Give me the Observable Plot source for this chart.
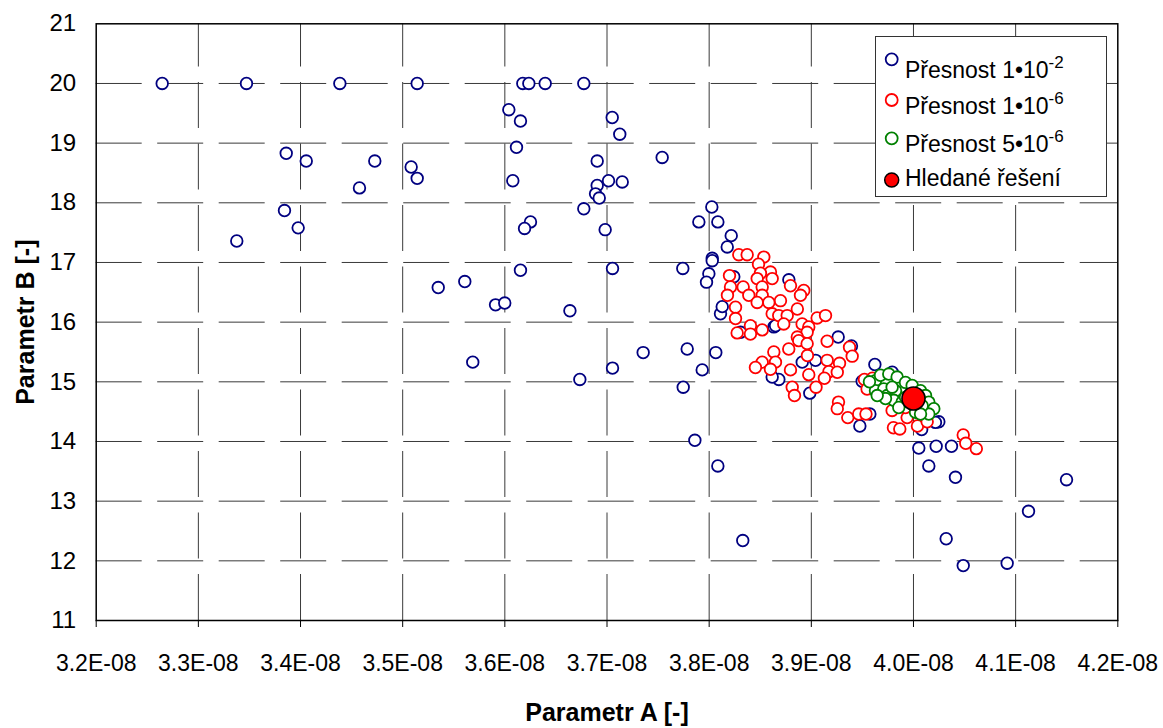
<!DOCTYPE html>
<html>
<head>
<meta charset="utf-8">
<script src="https://cdn.jsdelivr.net/npm/d3@7"></script>
<script src="https://cdn.jsdelivr.net/npm/@observablehq/plot@0.6"></script>
<style>
  body { margin: 0; background: #fff; }
  #chart { width: 1163px; height: 728px; }
  #chart svg { font-family: "Liberation Sans", Arial, sans-serif; }
</style>
</head>
<body>
<div id="chart"></div>
<script>
// Axis ticks
const xTicks = [3.2e-8, 3.3e-8, 3.4e-8, 3.5e-8, 3.6e-8, 3.7e-8, 3.8e-8, 3.9e-8, 4.0e-8, 4.1e-8, 4.2e-8];
const yTicks = [11, 12, 13, 14, 15, 16, 17, 18, 19, 20, 21];

// Precision 1e-2 runs: parameter A, parameter B
const blueA = [
  3.2646e-8, 3.3471e-8, 3.4385e-8, 3.5142e-8, 3.6176e-8, 3.6235e-8, 3.6395e-8, 3.6773e-8,
  3.3860e-8, 3.4056e-8, 3.4727e-8, 3.4577e-8, 3.3843e-8, 3.3977e-8, 3.3376e-8,
  3.6039e-8, 3.6153e-8, 3.7051e-8, 3.7125e-8, 3.6114e-8, 3.5083e-8, 3.5142e-8, 3.6078e-8,
  3.6904e-8, 3.7540e-8, 3.7015e-8, 3.7149e-8, 3.6904e-8, 3.6888e-8, 3.6924e-8, 3.6773e-8,
  3.6251e-8, 3.6193e-8, 3.6982e-8, 3.8026e-8, 3.7899e-8, 3.8085e-8, 3.8216e-8, 3.8177e-8,
  3.8030e-8, 3.8030e-8, 3.7742e-8, 3.7054e-8, 3.6153e-8, 3.7997e-8, 3.7974e-8, 3.5348e-8,
  3.5608e-8, 3.5909e-8, 3.5999e-8, 3.6637e-8, 3.8111e-8, 3.8128e-8, 3.5686e-8, 3.6734e-8,
  3.7054e-8, 3.7354e-8, 3.7785e-8, 3.7932e-8, 3.8065e-8, 3.7746e-8, 3.7860e-8, 3.8085e-8,
  3.8329e-8, 4.0052e-8, 4.0222e-8, 4.0372e-8, 4.0150e-8, 4.0411e-8, 4.1498e-8, 4.1126e-8,
  4.0320e-8, 4.0487e-8, 4.0917e-8, 4.0248e-8, 4.0080e-8, 3.9475e-8, 3.9573e-8, 3.9622e-8,
  3.9792e-8, 3.9498e-8, 3.9263e-8, 3.8985e-8, 3.8682e-8, 3.8617e-8, 3.8911e-8, 3.9041e-8,
  3.8633e-8, 3.8780e-8, 3.8307e-8, 3.8650e-8, 3.9393e-8, 4.0215e-8, 3.8241e-8
];
const blueB = [
  20.00, 20.00, 20.00, 20.00, 20.00, 20.00, 20.00, 20.00,
  18.83, 18.70, 18.70, 18.25, 17.87, 17.58, 17.36,
  19.56, 19.37, 19.43, 19.15, 18.93, 18.60, 18.41, 18.37,
  18.70, 18.76, 18.37, 18.35, 18.29, 18.15, 18.08, 17.90,
  17.68, 17.57, 17.55, 17.93, 17.68, 17.68, 17.45, 17.26,
  17.07, 17.03, 16.90, 16.90, 16.87, 16.81, 16.67, 16.58,
  16.68, 16.29, 16.32, 16.19, 16.14, 16.26, 15.33, 15.04,
  15.23, 15.49, 15.55, 15.20, 15.49, 14.91, 14.02, 13.59,
  12.34, 13.89, 13.92, 13.92, 13.59, 13.40, 13.36, 12.83,
  12.37, 11.92, 11.96, 14.33, 14.20, 14.26, 14.46, 15.29,
  15.16, 15.01, 15.75, 14.81, 15.04, 15.08, 15.33, 15.36,
  15.92, 16.71, 15.83, 15.94, 15.60, 14.32, 16.76
];

// Precision 1e-6 runs
const redA = [
  3.8290e-8, 3.8372e-8, 3.8535e-8, 3.8483e-8, 3.8600e-8, 3.8502e-8, 3.8617e-8, 3.8199e-8,
  3.8470e-8, 3.8209e-8, 3.8333e-8, 3.8519e-8, 3.8796e-8, 3.8926e-8, 3.8894e-8, 3.8179e-8,
  3.8388e-8, 3.8519e-8, 3.8470e-8, 3.8698e-8, 3.8584e-8, 3.8258e-8, 3.8863e-8, 3.8617e-8,
  3.8681e-8, 3.8764e-8, 3.9057e-8, 3.9139e-8, 3.8258e-8, 3.8730e-8, 3.8910e-8, 3.8975e-8,
  3.8404e-8, 3.8519e-8, 3.8274e-8, 3.8404e-8, 3.8959e-8, 3.8863e-8, 3.8877e-8, 3.8959e-8,
  3.9155e-8, 3.9374e-8, 3.8779e-8, 3.8633e-8, 3.9400e-8, 3.8962e-8, 3.8649e-8, 3.8519e-8,
  3.8453e-8, 3.8600e-8, 3.9155e-8, 3.9276e-8, 3.9172e-8, 3.8796e-8, 3.8975e-8, 3.9254e-8,
  3.9128e-8, 3.9046e-8, 3.8813e-8, 3.8835e-8, 3.9520e-8, 3.9546e-8, 3.9266e-8, 3.9254e-8,
  3.9357e-8, 3.9464e-8, 3.9535e-8, 3.9804e-8, 3.9866e-8, 3.9938e-8, 4.0039e-8, 4.0134e-8,
  4.0487e-8, 4.0512e-8, 4.0615e-8, 3.9791e-8, 3.9921e-8, 3.9599e-8
];
const redB = [
  17.13, 17.13, 17.09, 16.97, 16.84, 16.82, 16.73, 16.78,
  16.73, 16.59, 16.59, 16.59, 16.61, 16.53, 16.45, 16.45,
  16.45, 16.45, 16.33, 16.36, 16.33, 16.25, 16.22, 16.14,
  16.11, 16.11, 16.07, 16.11, 16.06, 15.97, 15.97, 15.92,
  15.94, 15.87, 15.82, 15.80, 15.83, 15.75, 15.69, 15.64,
  15.68, 15.58, 15.55, 15.50, 15.43, 15.44, 15.33, 15.33,
  15.24, 15.21, 15.36, 15.31, 15.17, 15.20, 15.12, 15.16,
  15.06, 14.91, 14.91, 14.77, 15.04, 14.88, 14.66, 14.55,
  14.40, 14.46, 14.46, 14.23, 14.21, 14.40, 14.26, 14.33,
  14.11, 13.97, 13.88, 14.52, 14.57, 15.06
];

// Precision 5e-6 runs
const greenA = [
  3.9628e-8, 3.9677e-8, 3.9758e-8, 3.9840e-8, 3.9922e-8, 3.9987e-8, 4.0069e-8, 4.0118e-8,
  4.0150e-8, 4.0199e-8, 4.0150e-8, 3.9628e-8, 3.9709e-8, 3.9743e-8, 3.9824e-8, 3.9807e-8,
  3.9889e-8, 4.0052e-8, 4.0085e-8, 4.0020e-8, 3.9922e-8, 3.9726e-8, 3.9645e-8, 3.9791e-8,
  3.9856e-8, 4.0069e-8, 3.9569e-8
];
const greenB = [
  15.02, 15.11, 15.13, 15.08, 14.99, 14.94, 14.85, 14.77,
  14.66, 14.55, 14.46, 14.85, 14.88, 14.77, 14.85, 14.69,
  14.66, 14.74, 14.60, 14.49, 14.74, 14.72, 14.77, 14.91,
  14.57, 14.46, 15.00
];

// The sought solution
const solutionA = [4.0e-8];
const solutionB = [14.72];

const zipAB = (a, b) => a.map((v, i) => ({a: v, b: b[i]}));
const blue = zipAB(blueA, blueB);
const red = zipAB(redA, redB);
const green = zipAB(greenA, greenB);
const solution = zipAB(solutionA, solutionB);

// "3.2e-8" -> "3.2E-08"
const sci = d => d.toExponential(1).replace(/e([+-])(\d)$/, "E$10$2").replace(/e([+-])(\d\d)$/, "E$1$2");

const gridStroke = "#3a3a3a";
const dash = "46,15.5";

const plot = Plot.plot({
  width: 1163,
  height: 728,
  marginTop: 23.3,
  marginLeft: 95.7,
  marginRight: 45.7,
  marginBottom: 108,
  x: {domain: [3.2e-8, 4.2e-8]},
  y: {domain: [11, 21]},
  marks: [
    // dashed grid
    Plot.ruleY(yTicks.slice(1, -1), {y: d => d, x1: 3.2e-8, x2: 4.2e-8, stroke: gridStroke, strokeWidth: 1, strokeDasharray: dash}),
    Plot.ruleX(xTicks.slice(1, -1), {x: d => d, y1: 11, y2: 21, stroke: gridStroke, strokeWidth: 1, strokeDasharray: dash}),
    Plot.axisX({ticks: xTicks, tickFormat: sci, tickSize: 7, tickPadding: 27, fontSize: 23, label: null, stroke: "#000"}),
    Plot.axisY({ticks: yTicks, tickSize: 0, tickPadding: 20, fontSize: 24, label: null}),
    Plot.frame({stroke: "#000", strokeWidth: 1.5}),
    Plot.dot(blue, {x: "a", y: "b", r: 5.8, stroke: "#000080", strokeWidth: 1.8, fill: "white"}),
    Plot.dot(red, {x: "a", y: "b", r: 5.8, stroke: "#ff0000", strokeWidth: 1.8, fill: "white"}),
    Plot.dot(green, {x: "a", y: "b", r: 5.8, stroke: "#008000", strokeWidth: 1.8, fill: "white"}),
    Plot.dot(solution, {x: "a", y: "b", r: 11.5, stroke: "#000", strokeWidth: 1.6, fill: "#ff0000"}),
    Plot.text(["Parametr A [-]"], {text: d => d, frameAnchor: "bottom", dy: 92, lineAnchor: "middle", textAnchor: "middle", fontSize: 25, fontWeight: "bold", fill: "#000"}),
    Plot.text(["Parametr B [-]"], {text: d => d, frameAnchor: "left", dx: -70, rotate: -90, lineAnchor: "middle", textAnchor: "middle", fontSize: 25, fontWeight: "bold", fill: "#000"})
  ]
});

document.getElementById("chart").appendChild(plot);

// Legend box inside the plot area
const legendItems = [
  {label: "Přesnost 1•10", sup: "-2", stroke: "#000080", fill: "white", r: 6, cy: 59.3, base: 78.3},
  {label: "Přesnost 1•10", sup: "-6", stroke: "#ff0000", fill: "white", r: 6, cy: 100, base: 114.3},
  {label: "Přesnost 5•10", sup: "-6", stroke: "#008000", fill: "white", r: 6, cy: 138.3, base: 152.3},
  {label: "Hledané řešení", sup: null, stroke: "#000", fill: "#ff0000", r: 7, cy: 180, base: 186}
];
const svg = d3.select(plot);
const lg = svg.append("g").attr("class", "legend");
lg.append("rect")
  .attr("x", 875.5).attr("y", 36.5).attr("width", 231).attr("height", 160)
  .attr("fill", "#fff").attr("stroke", "#333").attr("stroke-width", 1);
for (const it of legendItems) {
  lg.append("circle")
    .attr("cx", 891.7).attr("cy", it.cy).attr("r", it.r)
    .attr("fill", it.fill).attr("stroke", it.stroke)
    .attr("stroke-width", it.sup ? 1.8 : 1.5);
  const t = lg.append("text")
    .attr("x", 905).attr("y", it.base)
    .attr("text-anchor", "start")
    .attr("font-size", 23).attr("fill", "#000")
    .attr("font-family", "'Liberation Sans', Arial, sans-serif");
  t.append("tspan").text(it.label);
  if (it.sup) {
    t.append("tspan").attr("dy", -10).attr("font-size", 17).text(it.sup);
  }
}
</script>
</body>
</html>
